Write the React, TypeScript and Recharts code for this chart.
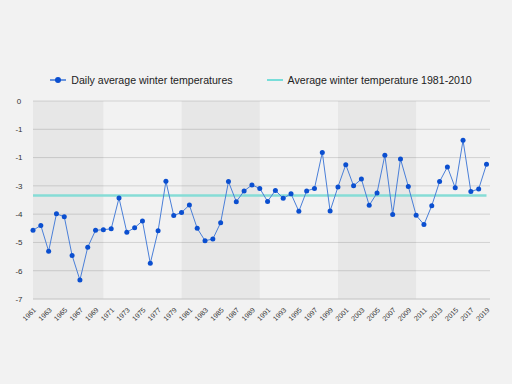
import React from 'react';
import {
  LineChart,
  Line,
  XAxis,
  YAxis,
  CartesianGrid,
  ReferenceArea,
  Legend,
} from 'recharts';

const years = [
  '1961', '1962', '1963', '1964', '1965', '1966', '1967', '1968', '1969', '1970',
  '1971', '1972', '1973', '1974', '1975', '1976', '1977', '1978', '1979', '1980',
  '1981', '1982', '1983', '1984', '1985', '1986', '1987', '1988', '1989', '1990',
  '1991', '1992', '1993', '1994', '1995', '1996', '1997', '1998', '1999', '2000',
  '2001', '2002', '2003', '2004', '2005', '2006', '2007', '2008', '2009', '2010',
  '2011', '2012', '2013', '2014', '2015', '2016', '2017', '2018', '2019',
];

const winterTemps = [
  -4.57, -4.4, -5.31, -3.99, -4.09, -5.46, -6.33, -5.17, -4.57, -4.55,
  -4.52, -3.43, -4.64, -4.48, -4.24, -5.74, -4.59, -2.84, -4.05, -3.94,
  -3.68, -4.5, -4.94, -4.88, -4.3, -2.85, -3.56, -3.18, -2.97, -3.09,
  -3.55, -3.16, -3.44, -3.28, -3.9, -3.18, -3.09, -1.82, -3.89, -3.04,
  -2.25, -3.0, -2.76, -3.69, -3.25, -1.92, -4.01, -2.05, -3.02, -4.04,
  -4.37, -3.7, -2.85, -2.33, -3.07, -1.39, -3.2, -3.11, -2.24,
];

const averageTemp = -3.34;

const yTicks = [0, -1, -2, -3, -4, -5, -6, -7];
const yTickLabels = ['0', '-1', '-1', '-3', '-4', '-5', '-6', '-7'];

// shaded decades
const bands = [
  ['1961', '1970'],
  ['1980', '1990'],
  ['2000', '2010'],
];

const data = years.map((year, i) => ({
  year,
  temp: winterTemps[i],
  avg: averageTemp,
}));

const FONT = '"Liberation Sans", Arial, Helvetica, sans-serif';

const LegendContent = () => (
  <div
    style={{
      display: 'flex',
      justifyContent: 'center',
      alignItems: 'center',
      fontFamily: FONT,
      fontSize: 10.6,
      lineHeight: '12px',
      height: 12,
      color: '#222',
    }}
  >
    <svg width={16} height={10} style={{ marginRight: 5 }}>
      <line x1={0} y1={5} x2={16} y2={5} stroke="#3d74d6" strokeWidth={1.5} />
      <circle cx={8} cy={5} r={3} fill="#0b4fd0" />
    </svg>
    <span style={{ marginRight: 34 }}>Daily average winter temperatures</span>
    <svg width={16} height={10} style={{ marginRight: 5 }}>
      <line x1={0} y1={5} x2={16} y2={5} stroke="#4fd6d0" strokeWidth={1.5} />
    </svg>
    <span>Average winter temperature 1981-2010</span>
  </div>
);

const App: React.FC = () => {
  return (
    <div
      style={{
        position: 'fixed',
        left: 0,
        top: 0,
        width: 512,
        height: 384,
        background: '#f2f2f2',
      }}
    >
      <LineChart
        width={512}
        height={384}
        data={data}
        margin={{ top: 89, right: 22, bottom: 0, left: 8 }}
      >
        {bands.map(([a, b]) => (
          <ReferenceArea
            key={a}
            x1={a}
            x2={b}
            fill="#000"
            fillOpacity={0.045}
            stroke="none"
          />
        ))}
        <CartesianGrid vertical={false} stroke="#d2d2d2" />
        <XAxis
          dataKey="year"
          interval={1}
          angle={-45}
          textAnchor="end"
          height={85}
          tickLine={false}
          axisLine={{ stroke: '#d2d2d2' }}
          padding={{ left: 0, right: 3.5 }}
          tick={{ fontSize: 7, fill: '#333', fontFamily: FONT }}
        />
        <YAxis
          domain={[-7, 0]}
          ticks={yTicks}
          width={25}
          tickLine={false}
          axisLine={false}
          tickMargin={8}
          tickFormatter={(v: number) => yTickLabels[yTicks.indexOf(v)]}
          tick={{ fontSize: 8, fill: '#333', fontFamily: FONT, textAnchor: 'middle' }}
        />
        <Legend
          verticalAlign="top"
          content={<LegendContent />}
          wrapperStyle={{ top: 74, left: 5, width: 512 }}
        />
        <Line
          dataKey="avg"
          stroke="#86dcd6"
          strokeWidth={2.5}
          dot={false}
          isAnimationActive={false}
          name="Average winter temperature 1981-2010"
        />
        <Line
          dataKey="temp"
          stroke="#4a7fd8"
          strokeWidth={1}
          dot={{ r: 2.5, fill: '#0b4fd0', stroke: 'none' }}
          isAnimationActive={false}
          name="Daily average winter temperatures"
        />
      </LineChart>
    </div>
  );
};

export default App;
